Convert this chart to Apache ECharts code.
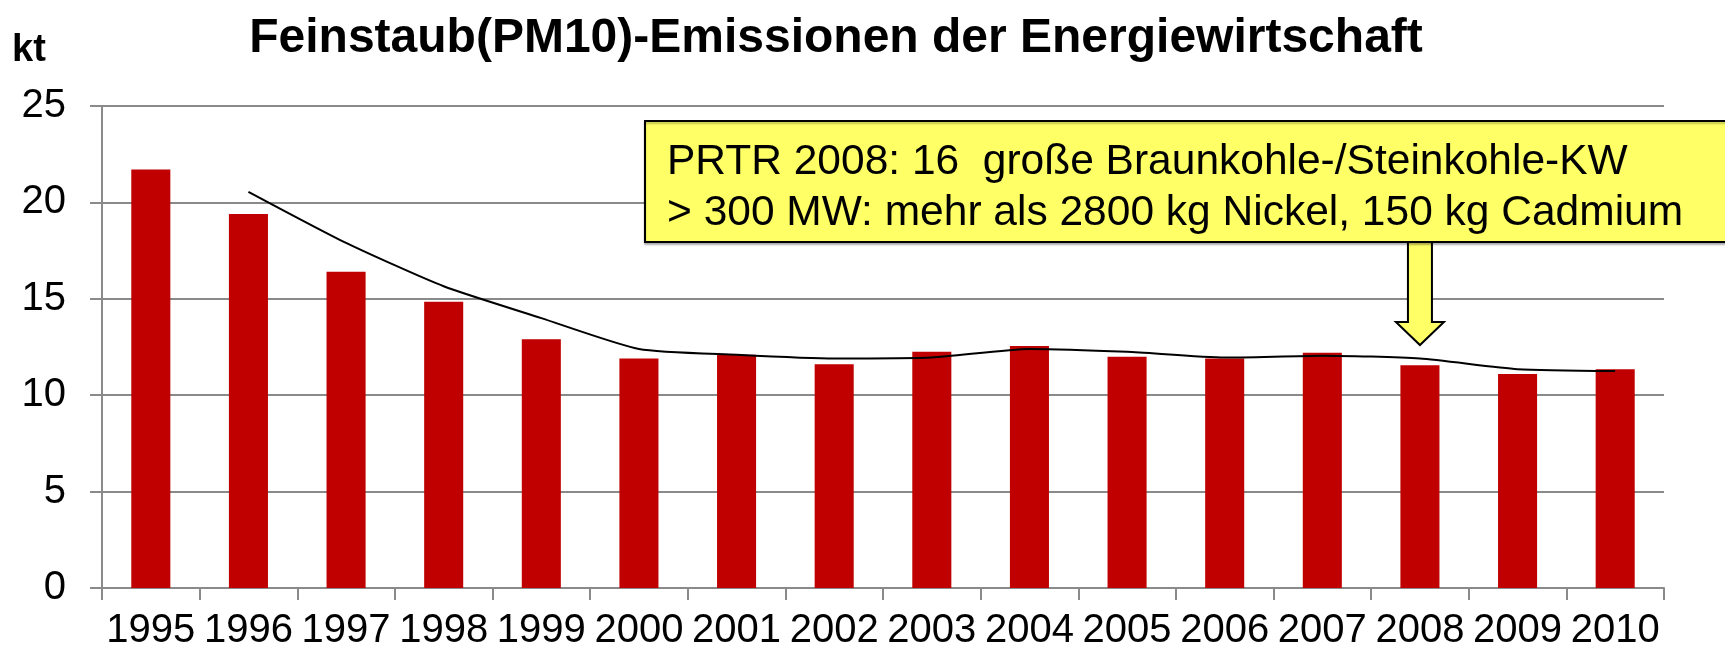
<!DOCTYPE html>
<html>
<head>
<meta charset="utf-8">
<title>Feinstaub(PM10)-Emissionen der Energiewirtschaft</title>
<script src="https://cdn.jsdelivr.net/npm/echarts@6/dist/echarts.min.js"></script>
<style>
  html, body { margin: 0; padding: 0; background: #fff; }
</style>
</head>
<body>
<div id='pmChart' style='width:1725px;height:647px'></div>
<script>
// Jahre
const years = ['1995', '1996', '1997', '1998', '1999', '2000', '2001', '2002',
  '2003', '2004', '2005', '2006', '2007', '2008', '2009', '2010']
// PM10 Emissionen in kt
const emissions = [21.7, 19.4, 16.4, 14.85, 12.9, 11.9, 12.1, 11.6,
  12.25, 12.55, 12.0, 11.9, 12.2, 11.55, 11.1, 11.35]
// Trendlinie (gleitender Durchschnitt), beginnt 1996
const trend = [null, 20.55, 17.9, 15.65, 14.0, 12.4, 12.1, 11.9,
  11.95, 12.4, 12.25, 11.95, 12.05, 11.9, 11.35, 11.25]
const yTicks = [0, 5, 10, 15, 20, 25]

const noteLines = [
  'PRTR 2008: 16  große Braunkohle-/Steinkohle-KW',
  '> 300 MW: mehr als 2800 kg Nickel, 150 kg Cadmium'
]
const noteYear = '2008'

const axisFont = 'Liberation Sans'
const gridColor = '#8a8a8a'

let chart = echarts.init(document.getElementById('pmChart'))

let option = {
  animation: false,
  grid: {
    left: 102,
    right: 61,
    top: 106,
    bottom: 59,
    containLabel: false,
    outerBoundsMode: 'none'
  },
  xAxis: {
    type: 'category',
    data: years,
    axisLine: {
      lineStyle: { color: gridColor, width: 2 }
    },
    axisTick: {
      show: true,
      length: 12,
      lineStyle: { color: gridColor, width: 2 }
    },
    axisLabel: {
      margin: 23,
      color: '#000',
      fontFamily: axisFont,
      fontSize: 40,
      interval: 0
    }
  },
  yAxis: {
    type: 'value',
    min: yTicks[0],
    max: yTicks[yTicks.length - 1],
    interval: 5,
    axisLine: {
      show: true,
      lineStyle: { color: gridColor, width: 2 }
    },
    axisTick: {
      show: true,
      length: 12,
      lineStyle: { color: gridColor, width: 2 }
    },
    splitLine: {
      lineStyle: { color: gridColor, width: 2 }
    },
    axisLabel: {
      margin: 36,
      color: '#000',
      fontFamily: axisFont,
      fontSize: 40
    }
  },
  series: [
    {
      name: 'PM10',
      type: 'bar',
      data: emissions,
      barWidth: '40%',
      itemStyle: { color: '#c00000' },
      z: 2
    },
    {
      name: 'Trend',
      type: 'line',
      data: trend,
      smooth: 0.2,
      symbol: 'none',
      lineStyle: { color: '#000', width: 2 },
      z: 3
    }
  ]
}
chart.setOption(option)

// Hinweisbox mit Pfeil auf 2008
const arrowX = chart.convertToPixel({ xAxisIndex: 0 }, noteYear)
const boxTop = 121
const boxBottom = 242
const headY = 322
const tipY = 345

chart.setOption({
  graphic: [
    {
      type: 'text',
      x: 836,
      y: 39,
      z: 10,
      style: {
        text: 'Feinstaub(PM10)-Emissionen der Energiewirtschaft',
        fontFamily: 'Liberation Sans',
        fontWeight: 'bold',
        fontSize: 48,
        fill: '#000',
        align: 'center',
        verticalAlign: 'middle'
      }
    },
    {
      type: 'text',
      x: 12,
      y: 51,
      z: 10,
      style: {
        text: 'kt',
        fontFamily: 'Liberation Sans',
        fontWeight: 'bold',
        fontSize: 38,
        fill: '#000',
        align: 'left',
        verticalAlign: 'middle'
      }
    },
    {
      type: 'polygon',
      z: 20,
      shape: {
        points: [
          [arrowX - 12, boxBottom - 2],
          [arrowX + 12, boxBottom - 2],
          [arrowX + 12, headY],
          [arrowX + 24, headY],
          [arrowX, tipY],
          [arrowX - 24, headY],
          [arrowX - 12, headY]
        ]
      },
      style: { fill: '#ffff66', stroke: '#000', lineWidth: 2 }
    },
    {
      type: 'rect',
      z: 21,
      shape: { x: 645, y: boxTop, width: 1100, height: boxBottom - boxTop },
      style: {
        fill: '#ffff66',
        stroke: '#000',
        lineWidth: 2,
        shadowColor: 'rgba(0,0,0,0.25)',
        shadowOffsetY: 2,
        shadowBlur: 2
      }
    },
    {
      type: 'text',
      x: 667,
      y: 162,
      z: 22,
      style: {
        text: noteLines[0],
        fontFamily: 'Liberation Sans',
        fontSize: 42.5,
        fill: '#000',
        align: 'left',
        verticalAlign: 'middle'
      }
    },
    {
      type: 'text',
      x: 667,
      y: 213,
      z: 22,
      style: {
        text: noteLines[1],
        fontFamily: 'Liberation Sans',
        fontSize: 42.5,
        fill: '#000',
        align: 'left',
        verticalAlign: 'middle'
      }
    }
  ]
})
</script>
</body>
</html>
